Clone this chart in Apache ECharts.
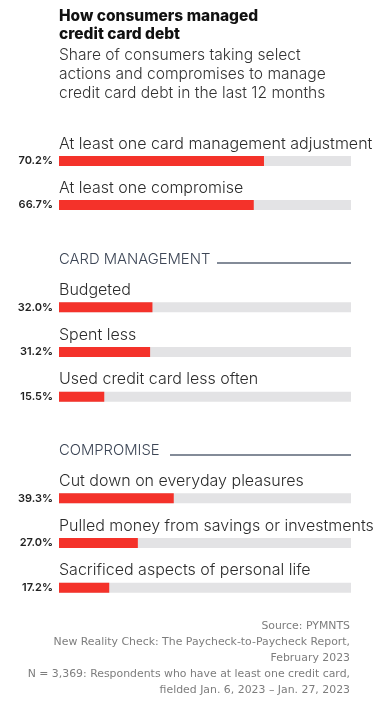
<!DOCTYPE html>
<html>
<head>
<meta charset="utf-8">
<script src="https://cdn.jsdelivr.net/npm/echarts@6/dist/echarts.min.js"></script>
<style>
html,body{margin:0;padding:0;background:#fff;}
#chart{width:383px;height:710px;}
</style>
</head>
<body>
<div id="chart"></div>
<script>
const titleText = 'How consumers managed\ncredit card debt';
const subtitleText = 'Share of consumers taking select\nactions and compromises to manage\ncredit card debt in the last 12 months';
const sourceLines = [
  'Source: PYMNTS',
  'New Reality Check: The Paycheck-to-Paycheck Report,',
  'February 2023',
  'N = 3,369: Respondents who have at least one credit card,',
  'fielded Jan. 6, 2023 \u2013 Jan. 27, 2023'
];

const sectionNames = ['CARD MANAGEMENT', 'COMPROMISE'];

const summaryCats = ['At least one card management adjustment', 'At least one compromise'];
const summaryVals = [70.2, 66.7];

const cardCats = ['Budgeted', 'Spent less', 'Used credit card less often'];
const cardVals = [32.0, 31.2, 15.5];

const compCats = ['Cut down on everyday pleasures', 'Pulled money from savings or investments', 'Sacrificed aspects of personal life'];
const compVals = [39.3, 27.0, 17.2];

const fullScale = 100;

const RED = '#f4322a';
const TRACK = '#e3e3e5';
const FONT = 'Inter, Roboto, sans-serif';

const groups = [
  {cats: summaryCats, vals: summaryVals, top: 139, height: 88},
  {cats: cardCats, vals: cardVals, top: 285, height: 134},
  {cats: compCats, vals: compVals, top: 476, height: 134}
];

const grid = [], xAxis = [], yAxis = [], series = [];
groups.forEach((g, i) => {
  grid.push({left: 59, width: 292, top: g.top, height: g.height});
  xAxis.push({type: 'value', gridIndex: i, min: 0, max: fullScale, show: false});
  yAxis.push({type: 'category', gridIndex: i, data: g.cats, inverse: true, show: false});
  series.push({
    type: 'bar', xAxisIndex: i, yAxisIndex: i,
    data: g.cats.map(() => fullScale),
    barWidth: 10, silent: true,
    itemStyle: {color: TRACK},
    label: {
      show: true, formatter: '{b}', position: [0, -12],
      align: 'left', verticalAlign: 'middle',
      fontFamily: FONT, fontSize: 16, fontWeight: 300, color: '#2b2b2b'
    }
  });
  series.push({
    type: 'bar', xAxisIndex: i, yAxisIndex: i,
    data: g.vals, barWidth: 10, barGap: '-100%', silent: true,
    itemStyle: {color: RED},
    label: {
      show: true, position: 'left', distance: 6,
      formatter: p => p.value.toFixed(1) + '%',
      fontFamily: FONT, fontSize: 11, fontWeight: 600, color: '#222'
    }
  });
});

const chart = echarts.init(document.getElementById('chart'));
chart.setOption({
  animation: false,
  backgroundColor: '#fff',
  title: [
    {text: titleText, left: 59, top: 7, padding: 0,
     textStyle: {fontFamily: FONT, fontSize: 15.5, fontWeight: 800, color: '#111', lineHeight: 18}},
    {text: subtitleText, left: 59, top: 46, padding: 0,
     textStyle: {fontFamily: FONT, fontSize: 15.6, fontWeight: 300, color: '#333', lineHeight: 19}},
    {text: sectionNames[0], left: 59, top: 252, padding: 0,
     textStyle: {fontFamily: FONT, fontSize: 14.8, fontWeight: 300, color: '#3d4656'}},
    {text: sectionNames[1], left: 59, top: 443, padding: 0,
     textStyle: {fontFamily: FONT, fontSize: 14.8, fontWeight: 300, color: '#3d4656'}}
  ],
  graphic: [
    {type: 'line', shape: {x1: 217, y1: 263, x2: 351, y2: 263}, style: {stroke: '#5a6576', lineWidth: 1.5}},
    {type: 'line', shape: {x1: 170, y1: 455, x2: 351, y2: 455}, style: {stroke: '#5a6576', lineWidth: 1.5}},
    {type: 'text', x: 350, y: 618,
     style: {text: sourceLines.join('\n'), align: 'right', verticalAlign: 'top',
       font: '400 10.9px "DejaVu Sans", sans-serif', fill: '#7d7d7d', lineHeight: 16}}
  ],
  grid, xAxis, yAxis, series
});
</script>
</body>
</html>
